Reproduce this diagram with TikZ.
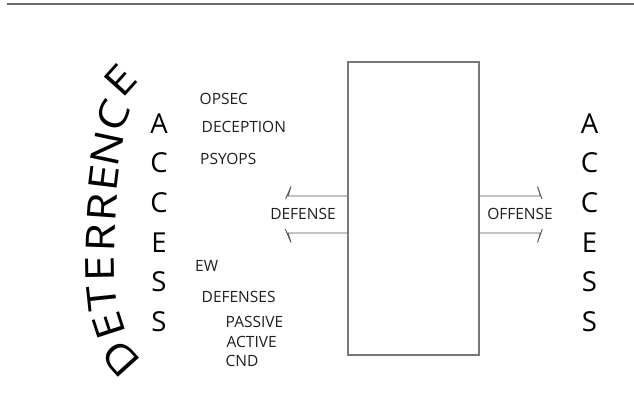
\documentclass[tikz,border=0pt]{standalone}
\usepackage{fontspec}
\setmainfont{Open Sans}
\newfontfamily\widesans[FakeStretch=1.15]{Open Sans}
\definecolor{rulegray}{HTML}{6A6A6A}
\definecolor{boxgray}{HTML}{777777}
\definecolor{arrowgray}{HTML}{555555}
\definecolor{ink}{HTML}{1E1E1E}
\begin{document}
\begin{tikzpicture}[x=1pt,y=-1pt,
  bigletter/.style={font=\fontsize{27.5}{27.5}\selectfont, text=black, inner sep=0pt, anchor=base},
  arcletter/.style={font=\widesans\fontsize{40}{40}\selectfont, text=black, inner sep=0pt, anchor=center},
  item/.style={font=\fontsize{15.5}{15.5}\selectfont, text=ink, inner sep=0pt, anchor=base west},
  tag/.style={font=\fontsize{15.5}{15.5}\selectfont, text=ink, fill=white, inner xsep=1.5pt, minimum height=30pt},
  shaft/.style={draw=arrowgray, line width=0.9pt, line join=miter}]
\path[use as bounding box] (0,0) rectangle (634,407);

% rule across the top
\draw[rulegray, line width=1.6pt] (7,4) coordinate (r0) -- (634,4) coordinate (r1);

% central block
\node[draw=boxgray, line width=1.8pt, minimum width=131pt, minimum height=293pt, inner sep=0pt]
  (core) at (413.5,208.5) {};

% block arrows leaving the block on both sides
\coordinate (lt) at (core.west |- 0,196);
\coordinate (lb) at (core.west |- 0,233);
\coordinate (rt) at (core.east |- 0,196);
\coordinate (rb) at (core.east |- 0,233);
\draw[shaft] (lt) -- (288,196) -- (291,186.5) -- (279,214.5) -- (291,242.5) -- (288,233) -- (lb);
\draw[shaft] (rt) -- (540.5,196) -- (537.5,186.5) -- (547.5,214.5) -- (537.5,242.5) -- (540.5,233) -- (rb);
\node[tag] (def) at (303,213.5) {DEFENSE};
\node[tag] (off) at (520,214) {OFFENSE};

% ACCESS columns
\foreach \ch [count=\i from 0] in {A,C,C,E,S,S} {
  \pgfmathsetmacro\by{133+\i*39.7}
  \node[bigletter] (la\i) at (159,\by) {\ch};
  \node[bigletter] (ra\i) at (589.5,\by) {\ch};
}

% DETERRENCE, one letter at a time up a bow bulging to the left
\foreach \ch/\cx/\cy/\rot [count=\i] in {
    D/121/359/132, E/109/326/108, T/102/298/96, E/100/269/91, R/101/238/88,
    R/102/207/86, E/104/178/83, N/107/149/78, C/113/116/67, E/120/80/48} {
  \node[arcletter, rotate=\rot] (dt\i) at (\cx,\cy) {\ch};
}

% measures listed beside the left column
\node[item] (opsec) at (199.5,104) {OPSEC};
\node[item] (decep) at (201.5,132) {DECEPTION};
\node[item] (psy)   at (200,164.5) {PSYOPS};
\node[item] (ew)    at (195,271.5) {EW};
\node[item] (dfs)   at (201.5,302.5) {DEFENSES};
\node[item] (pas)   at (225.5,327) {PASSIVE};
\node[item] (act)   at (226.5,347) {ACTIVE};
\node[item] (cnd)   at (225.5,366.5) {CND};
\end{tikzpicture}
\end{document}
